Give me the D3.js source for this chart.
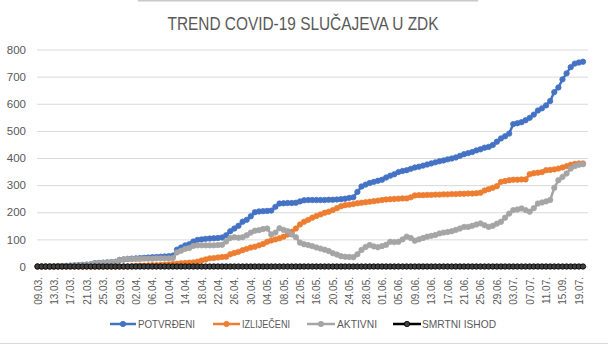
<!DOCTYPE html>
<html><head><meta charset="utf-8">
<script src="https://cdn.jsdelivr.net/npm/d3@7"></script>
<style>body{margin:0;background:#fff}svg{display:block}text{font-family:"Liberation Sans",Arial,sans-serif;fill:#595959}</style>
</head><body><svg id="c" width="608" height="345"></svg>
<script>
const tickLabels = ["09.03.","13.03.","17.03.","21.03.","25.03.","29.03.","02.04.","06.04.","10.04.","14.04.","18.04.","22.04.","26.04.","30.04.","04.05.","08.05.","12.05.","16.05.","20.05.","24.05.","28.05.","01.06.","05.06.","09.06.","13.06.","17.06.","21.06.","25.06.","29.06.","03.07.","07.07.","11.07.","15.09.","19.07."];
const potvrdeni = [0,0,0,0,0,1,1, 2,3,4,5,6,7,8, 12,13,14,15,16,17,
 24,26,28,29,30,31,32,33,34,35,36,37,38,40, 62,70,78,82,
 92,98,100,102,103,104,105,107, 115,130,140, 150,165,172,185,
 200,203,204,205,206, 220,232,233,234,234,235,
 240,244,245,245,245,245,245,246, 246,247,248,250,253,255,
 275,295,302,308,312,316, 320,328,335,340,348,352,
 355,360,365,368,372,376, 380,384,388,391,395,398,
 402,408,414,418,422,428, 432,438,441,448,460, 472,480,490,
 525,528,532, 539,548,560, 575,583,594, 610,643,660, 690,712,735, 748,752,755];
const izlijeceni = [0,0,0,0,0,0,0,0,0,0,0,0,0,0,0,0,0,0,0,0,0,0,0,
 1,2,3,3,4,5,5,6,7,8,9, 10,12,13,14,15,18,22,26,
 30,31,33,35,36,45,50, 54,60,65,70,73, 78,83,91,96,100,
 104,110,118,128,140, 155,165,172,180,186, 192,198,202,208,215,
 222,226,228,230,233,235, 237,239,241,243,245,247,
 248,249,250,251,251,255, 262,263,263,264,264,265,
 265,266,266,267,267,268, 268,269,269,270,272,280,
 285,290,296,312, 315,318,320,320,321,321, 340,344,346,348,355,
 356,358,361,365,370, 375,378,380,380];
const aktivni = [0,0,0,0,0,1,1, 2,3,4,5,6,7,8, 12,13,14,15,16,17, 24,26,28,
 28,28,28,29,29,29,30,30,30,30,31, 52,58,65,68,76,78,78,78,
 78,78,79,80,92,105,108, 106,108,115,125,132, 134,138,140,118,125,
 141,135,130,118,108, 88,82,79,75,70,66,62,57, 49,44,38,36,35,34,
 45,61,72,79,74,71, 75,80,91,90,91,100, 110,105,95,100,105,110,
 113,116,122,125,127,130, 135,140,146,146,150,155, 159,152,146,150,158,
 165,180,195, 208,210,214, 208,202,215, 232,236,240, 245,290,318,
 330,343,361, 370,375,377];
const smrtniIshod = [0,0,0,0,0,0,0,0,0,0,0,0,0,0,0,0,0,0,0,0,
 0,0,0,0,0,0,0,0,0,0,0,0,0,0,0,0,0,0,0,0,
 0,0,0,0,0,0,0,0,0,0,0,0,0,0,0,0,0,0,0,0,
 0,0,0,0,0,0,0,0,0,0,0,0,0,0,0,0,0,0,0,0,
 0,0,0,0,0,0,0,0,0,0,0,0,0,0,0,0,0,0,0,0,
 0,0,0,0,0,0,0,0,0,0,0,0,0,0,0,0,0,0,0,0,
 0,0,0,0,0,0,0,0,0,0,0,0,0,0];
const seriesNames = ["POTVRĐENI","IZLIJEČENI","AKTIVNI","SMRTNI ISHOD"];
const seriesColors = ["#4472C4","#ED7D31","#A5A5A5","#000000"];
const yTicks = [0,100,200,300,400,500,600,700,800];
const titleText = "TREND COVID-19 SLUČAJEVA U ZDK";

const svg = d3.select("#c");
const series = [potvrdeni, izlijeceni, aktivni, smrtniIshod];
const n = potvrdeni.length;
const idx = d3.range(n);
const x = d3.scalePoint().domain(idx).range([37.5, 583]);
const y = d3.scaleLinear().domain([0, 800]).range([266.5, 49.5]);

// borders
svg.append("rect").attr("x",138).attr("y",0).attr("width",340).attr("height",1.5).attr("fill","#c8c8c8");
svg.append("line").attr("x1",0).attr("x2",608).attr("y1",343.5).attr("y2",343.5).attr("stroke","#d9d9d9");

// title
svg.append("text").attr("x",303).attr("y",30).attr("text-anchor","middle")
  .attr("font-size",18).attr("textLength",271).attr("lengthAdjust","spacingAndGlyphs")
  .style("fill","#595959").text(titleText);

// y axis with gridlines
const yAxis = svg.append("g").attr("transform","translate(37,0)")
  .call(d3.axisLeft(y).tickValues(yTicks).tickSize(-551).tickPadding(11));
yAxis.select(".domain").remove();
yAxis.selectAll(".tick line").attr("stroke","#d9d9d9").attr("stroke-width",1);
yAxis.selectAll(".tick text").attr("font-size",11.5).style("fill","#595959").attr("font-family","Liberation Sans, Arial");

// x axis
const tickIdx = tickLabels.map((d,i)=>i*4);
const xAxis = svg.append("g").attr("transform","translate(0,266.5)")
  .call(d3.axisBottom(x).tickValues(tickIdx).tickFormat(d=>tickLabels[d/4]).tickSize(0));
xAxis.select(".domain").remove();
xAxis.selectAll(".tick text")
  .attr("transform","rotate(-90)")
  .attr("text-anchor","end")
  .attr("x",-10.5).attr("y",0).attr("dy","0.35em")
  .attr("font-size",10).style("fill","#595959").attr("font-family","Liberation Sans, Arial");

// series
const line = d3.line().x((d,i)=>x(i)).y(d=>y(d));
series.forEach((s,k)=>{
  const g = svg.append("g");
  g.append("path").datum(s).attr("d",line).attr("fill","none")
    .attr("stroke",seriesColors[k]).attr("stroke-width",2.5).attr("stroke-linejoin","round");
  g.selectAll("circle").data(s).join("circle")
    .attr("cx",(d,i)=>x(i)).attr("cy",d=>y(d)).attr("r",2.7)
    .attr("fill",k===3?"#404040":seriesColors[k])
    .attr("stroke",seriesColors[k]).attr("stroke-width",0.8);
});

// legend
const legY = 324;
const legItems = [
  {x1:110,x2:136,tx:138,tl:57},
  {x1:213,x2:240,tx:242,tl:48},
  {x1:307,x2:335,tx:337,tl:40},
  {x1:393,x2:421,tx:422,tl:74}
];
legItems.forEach((it,k)=>{
  const g = svg.append("g");
  g.append("line").attr("x1",it.x1).attr("x2",it.x2).attr("y1",legY).attr("y2",legY)
    .attr("stroke",seriesColors[k]).attr("stroke-width",2.5);
  g.append("circle").attr("cx",(it.x1+it.x2)/2).attr("cy",legY).attr("r",2.7)
    .attr("fill",k===3?"#404040":seriesColors[k]).attr("stroke",seriesColors[k]).attr("stroke-width",0.8);
  g.append("text").attr("x",it.tx).attr("y",legY).attr("dy","0.35em")
    .attr("font-size",11).attr("textLength",it.tl).attr("lengthAdjust","spacingAndGlyphs")
    .style("fill","#595959").text(seriesNames[k]);
});
</script></body></html>
